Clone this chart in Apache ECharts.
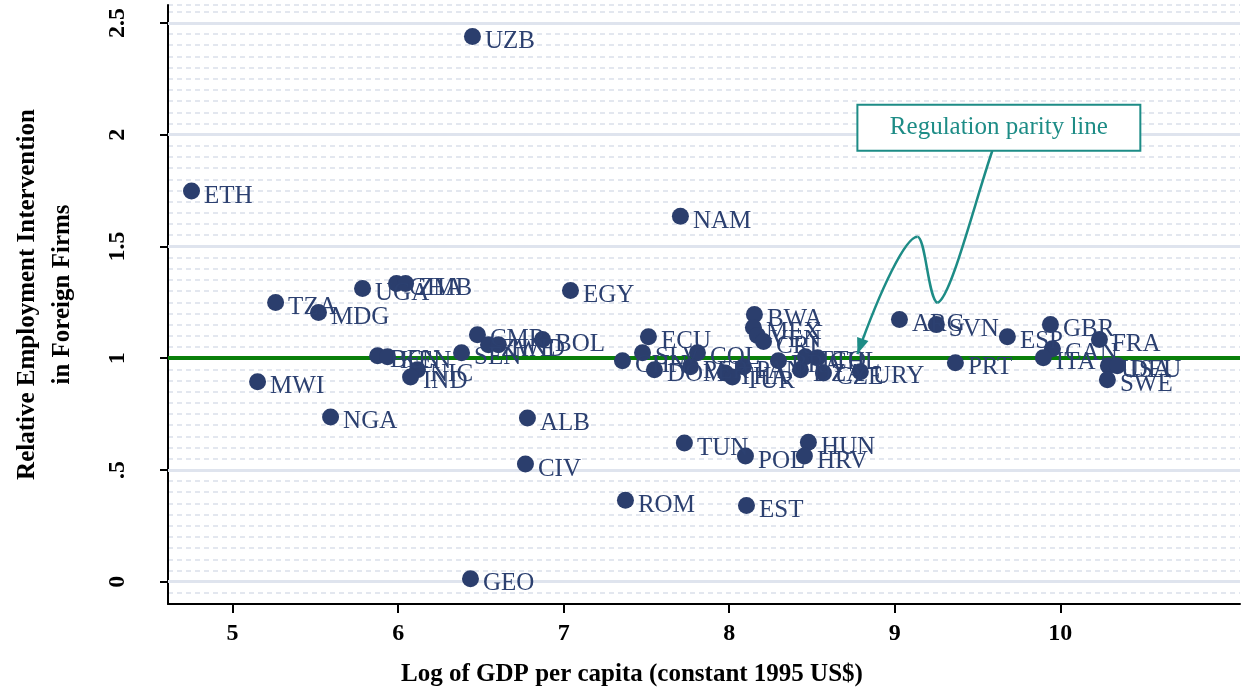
<!DOCTYPE html>
<html>
<head>
<meta charset="utf-8">
<script src="https://cdn.jsdelivr.net/npm/echarts@6/dist/echarts.min.js"></script>
<style>
  html, body { margin: 0; padding: 0; background: #fff; }
  #chart { width: 1241px; height: 693px; }
</style>
</head>
<body>
<div id="chart"></div>
<script>
// country codes, log GDP per capita, relative employment intervention
var countries = ['UZB','ETH','NAM','UGA','GHA','ZMB','EGY','TZA','MDG','ARG',
                 'SVN','GBR','ESP','FRA','CAN','ITA','PRT','USA','DEU','SWE',
                 'URY','BWA','MEX','VEN','CRI','ECU','CMR','ZWE','HND','BOL',
                 'SEN','BEN','KEN','NIC','IND','MWI','NGA','ALB','CIV','ROM',
                 'TUN','POL','EST','HUN','HRV','GEO','CHN','SLV','DOM','COL',
                 'PER','THA','TUR','PAN','BRA','TTO','CHL','DZA','CZE'];
var logGdp = [6.449,4.752,7.705,5.785,5.990,6.045,7.041,5.260,5.519,9.028,
              9.251,9.940,9.680,10.236,9.952,9.897,9.366,10.290,10.344,10.284,
              8.792,8.152,8.146,8.170,8.207,7.512,6.479,6.546,6.606,6.872,
              6.383,5.876,5.936,6.117,6.075,5.151,5.592,6.781,6.769,7.373,
              7.729,8.098,8.104,8.478,8.454,6.437,7.355,7.476,7.548,7.808,
              7.766,7.977,8.019,8.086,8.297,8.460,8.533,8.430,8.569];
var relEmp = [2.439,1.748,1.635,1.312,1.334,1.334,1.303,1.249,1.204,1.173,
              1.150,1.150,1.096,1.083,1.042,1.002,0.979,0.966,0.966,0.903,
              0.939,1.195,1.137,1.101,1.074,1.096,1.105,1.060,1.060,1.083,
              1.024,1.011,1.006,0.948,0.916,0.894,0.737,0.732,0.526,0.364,
              0.620,0.562,0.341,0.624,0.562,0.013,0.988,1.024,0.948,1.024,
              0.961,0.934,0.916,0.961,0.988,1.006,1.002,0.948,0.934];

var xTicks = [5, 6, 7, 8, 9, 10];
var yTicks = [0, 0.5, 1, 1.5, 2, 2.5];
var parityLevel = 1;

// callout, in data units
var calloutText = 'Regulation parity line';
var calloutBox = [[8.774, 2.134], [10.483, 1.928]];
var calloutCurve = [
    [[9.589, 1.928], [9.487, 1.709], [9.336, 1.261], [9.257, 1.248]],
    [[9.257, 1.248], [9.203, 1.261], [9.185, 1.543], [9.137, 1.543]],
    [[9.137, 1.543], [9.064, 1.543], [8.913, 1.306], [8.774, 1.018]]
];

var serif = 'Liberation Serif';
var navy = '#2b3e6d';
var teal = '#1d8c86';

var points = [];
for (var i = 0; i < countries.length; i++) {
    points.push({ name: countries[i], value: [logGdp[i], relEmp[i]] });
}

var hLines = [];
for (var k = 0; k < yTicks.length; k++) {
    hLines.push({ yAxis: yTicks[k], lineStyle: { color: '#dfe4ee', width: 3, type: 'solid' } });
}
hLines.push({ yAxis: parityLevel, lineStyle: { color: '#0a7f0a', width: 4, type: 'solid' } });

var myChart = echarts.init(document.getElementById('chart'));
var option = {
    animation: false,
    backgroundColor: '#fff',
    grid: { left: 168, right: 1, top: 5, bottom: 89, outerBoundsMode: 'none' },
    xAxis: {
        type: 'value',
        min: 4.61,
        max: 11.085,
        axisLine: { show: true, onZero: false, lineStyle: { color: '#000', width: 2 } },
        axisTick: { show: true, customValues: xTicks, length: 9, lineStyle: { color: '#000', width: 2 } },
        axisLabel: { customValues: xTicks, margin: 18, fontFamily: serif, fontWeight: 'bold', fontSize: 24, color: '#000' },
        splitLine: { show: false },
        name: 'Log of GDP per capita (constant 1995 US$)',
        nameLocation: 'middle',
        nameGap: 58,
        nameTextStyle: { fontFamily: serif, fontWeight: 'bold', fontSize: 25, color: '#000', padding: [0, 144, 0, 0] }
    },
    yAxis: [
        {
            type: 'value',
            min: -0.1,
            max: 2.58,
            axisLine: { show: true, onZero: false, lineStyle: { color: '#000', width: 2 } },
            axisTick: { show: true, customValues: yTicks, length: 8, lineStyle: { color: '#000', width: 2 } },
            axisLabel: {
                customValues: yTicks,
                rotate: 90,
                margin: 38,
                fontFamily: serif, fontWeight: 'bold', fontSize: 24, color: '#000',
                formatter: function (v) {
                    if (v === 0) return '0';
                    return String(v).replace(/^0\./, '.');
                }
            },
            splitLine: { show: false },
            name: 'Relative Employment Intervention\nin Foreign Firms',
            nameLocation: 'middle',
            nameRotate: 90,
            nameGap: 88,
            nameTextStyle: { fontFamily: serif, fontWeight: 'bold', fontSize: 25, color: '#000', lineHeight: 35, padding: [0, 0, 0, 20] }
        },
        {
            type: 'value',
            min: -0.1,
            max: 2.58,
            interval: 0.05,
            axisLine: { show: false },
            axisTick: { show: false },
            axisLabel: { show: false },
            splitLine: { show: true, lineStyle: { color: '#e3e7ef', width: 2, type: [5, 4] } }
        }
    ],
    series: [
        {
            type: 'scatter',
            data: [],
            silent: true,
            z: 1,
            markLine: {
                silent: true,
                symbol: 'none',
                z: 1,
                label: { show: false },
                data: hLines
            }
        },
        {
            type: 'scatter',
            data: points,
            symbolSize: 17,
            z: 10,
            itemStyle: { color: navy, opacity: 1 },
            label: {
                show: true,
                position: 'right',
                distance: 4,
                offset: [0, 5],
                formatter: '{b}',
                fontFamily: serif,
                fontSize: 25,
                color: '#2c4070'
            }
        }
    ]
};
myChart.setOption(option);

// callout box and curved arrow
function toPx(p) {
    return myChart.convertToPixel({ seriesIndex: 1 }, p);
}
var b0 = toPx(calloutBox[0]);
var b1 = toPx(calloutBox[1]);
var graphics = [
    {
        type: 'rect',
        shape: { x: b0[0], y: b0[1], width: b1[0] - b0[0], height: b1[1] - b0[1] },
        style: { fill: '#fff', stroke: teal, lineWidth: 2 },
        z: 20
    },
    {
        type: 'text',
        x: (b0[0] + b1[0]) / 2,
        y: (b0[1] + b1[1]) / 2,
        style: { text: calloutText, fill: teal, font: '25px "Liberation Serif"', align: 'center', verticalAlign: 'middle' },
        z: 21
    }
];
calloutCurve.forEach(function (seg) {
    var a = toPx(seg[0]), c1 = toPx(seg[1]), c2 = toPx(seg[2]), e = toPx(seg[3]);
    graphics.push({
        type: 'bezierCurve',
        shape: { x1: a[0], y1: a[1], cpx1: c1[0], cpy1: c1[1], cpx2: c2[0], cpy2: c2[1], x2: e[0], y2: e[1] },
        style: { stroke: teal, lineWidth: 2.5, fill: null },
        z: 20
    });
});
var lastSeg = calloutCurve[calloutCurve.length - 1];
var tip = toPx(lastSeg[3]);
var back = toPx(lastSeg[2]);
var dx = back[0] - tip[0], dy = back[1] - tip[1];
var len = Math.sqrt(dx * dx + dy * dy);
dx /= len; dy /= len;
var bx = tip[0] + dx * 16, by = tip[1] + dy * 16;
graphics.push({
    type: 'polygon',
    shape: { points: [tip, [bx - dy * 6, by + dx * 6], [bx + dy * 6, by - dx * 6]] },
    style: { fill: teal },
    z: 20
});
myChart.setOption({ graphic: graphics });
</script>
</body>
</html>
